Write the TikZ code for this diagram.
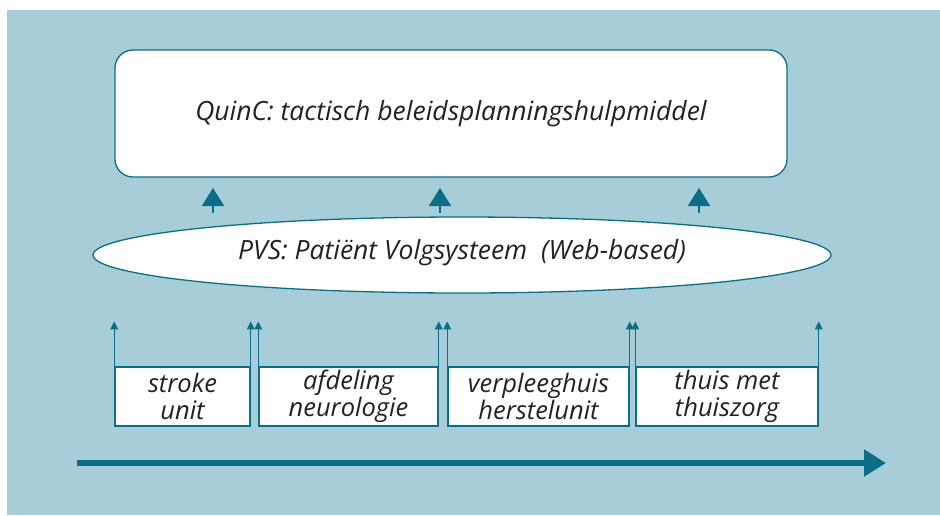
\documentclass[tikz,border=0pt]{standalone}
\usepackage{fontspec}
\setmainfont{Open Sans}
\usetikzlibrary{arrows.meta}
\definecolor{bgblue}{HTML}{A7CDD9}
\definecolor{teal}{HTML}{0B6E86}
\definecolor{txt}{HTML}{222222}
\tikzset{
  unitbox/.style={draw=teal, line width=1.4pt, fill=white, minimum height=59pt, inner sep=0pt, align=center, font=\fontsize{25.5}{26.5}\selectfont\itshape, text=txt},
  smallup/.style={draw=teal, line width=1.5pt, -{Triangle[length=8pt,width=7.5pt]}},
  bigup/.style={draw=teal, fill=teal, line width=2pt, -{Triangle[length=18pt,width=22pt]}},
}
\begin{document}
\begin{tikzpicture}[x=1pt,y=-1pt]
\useasboundingbox (0,0) rectangle (940,515);
\fill[bgblue] (7,10) rectangle (940,515);
% top rounded rectangle
\node[draw=teal, line width=1.3pt, fill=white, rounded corners=18pt, minimum width=672pt, minimum height=127pt, font=\fontsize{26.5}{30}\selectfont\itshape, text=txt] (quinc) at (451,113.5) {QuinC: tactisch beleidsplanningshulpmiddel};
% ellipse
\draw[teal, line width=1.3pt, fill=white] (462,255) ellipse [x radius=369, y radius=38];
\node[font=\fontsize{26.5}{30}\selectfont\itshape, text=txt] (pvs) at (462,253) {PVS: Patiënt Volgsysteem\ \ (Web-based)};
% big up arrows
\coordinate (a1s) at (213,213); \coordinate (a1e) at (213,188);
\coordinate (a2s) at (440,213); \coordinate (a2e) at (440,188);
\coordinate (a3s) at (699,213); \coordinate (a3e) at (699,188);
\draw[bigup] (a1s) -- (a1e);
\draw[bigup] (a2s) -- (a2e);
\draw[bigup] (a3s) -- (a3e);
% boxes
\node[unitbox, minimum width=135pt] (b1) at (182.5,396.5) {stroke\\unit};
\node[unitbox, minimum width=179pt] (b2) at (348.5,396.5) {afdeling\\neurologie};
\node[unitbox, minimum width=181pt] (b3) at (538.5,396.5) {verpleeghuis\\herstelunit};
\node[unitbox, minimum width=182pt] (b4) at (727,396.5) {thuis met\\thuiszorg};
% small arrows
\foreach \b in {b1,b2,b3,b4}{
  \coordinate (\b L) at ([yshift=45pt]\b.north west);
  \coordinate (\b R) at ([yshift=45pt]\b.north east);
  \draw[smallup] (\b.north west) -- (\b L);
  \draw[smallup] (\b.north east) -- (\b R);
}
% main arrow
\coordinate (ms) at (77,463); \coordinate (me) at (886,463);
\draw[teal, line width=6pt, -{Triangle[length=22pt,width=26pt]}] (ms) -- (me);
\end{tikzpicture}
\end{document}
